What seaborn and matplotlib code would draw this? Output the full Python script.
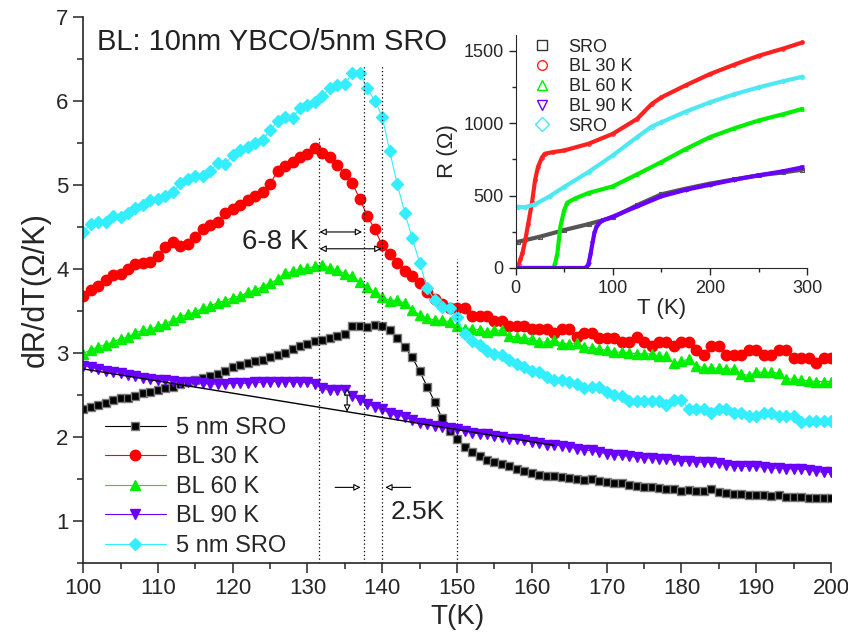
import numpy as np
import pandas as pd
import matplotlib
matplotlib.use("Agg")
import matplotlib.pyplot as plt
from matplotlib.lines import Line2D
from matplotlib.ticker import MultipleLocator
import seaborn as sns

# dR/dT vs T, main panel
T = list(range(100, 201))
sro_black = [2.33, 2.36, 2.38, 2.41, 2.44, 2.46, 2.46, 2.49, 2.52, 2.54,
             2.56, 2.58, 2.60, 2.63, 2.65, 2.68, 2.70, 2.72, 2.75, 2.78,
             2.83, 2.86, 2.88, 2.90, 2.92, 2.95, 2.97, 3.00, 3.05, 3.08,
             3.11, 3.14, 3.15, 3.18, 3.20, 3.23, 3.32, 3.32, 3.31, 3.33,
             3.32, 3.27, 3.18, 3.07, 2.95, 2.78, 2.60, 2.42, 2.22, 2.07,
             1.97, 1.88, 1.82, 1.77, 1.73, 1.70, 1.68, 1.65, 1.62, 1.60,
             1.57, 1.55, 1.54, 1.53, 1.52, 1.51, 1.50, 1.49, 1.50, 1.48,
             1.46, 1.45, 1.45, 1.43, 1.42, 1.41, 1.40, 1.39, 1.38, 1.38,
             1.36, 1.37, 1.36, 1.36, 1.38, 1.34, 1.33, 1.32, 1.32, 1.31,
             1.31, 1.31, 1.30, 1.31, 1.29, 1.29, 1.28, 1.27, 1.27, 1.27,
             1.27]
bl_30k = [3.68, 3.75, 3.80, 3.87, 3.93, 3.94, 4.00, 4.06, 4.07, 4.08,
          4.15, 4.26, 4.32, 4.27, 4.30, 4.38, 4.47, 4.52, 4.56, 4.67,
          4.71, 4.76, 4.82, 4.87, 4.92, 5.01, 5.17, 5.22, 5.27, 5.33,
          5.37, 5.44, 5.38, 5.33, 5.24, 5.13, 5.02, 4.83, 4.63, 4.47,
          4.28, 4.18, 4.07, 3.98, 3.92, 3.83, 3.72, 3.64, 3.58, 3.54,
          3.53, 3.53, 3.44, 3.44, 3.44, 3.38, 3.38, 3.32, 3.32, 3.32,
          3.29, 3.29, 3.29, 3.24, 3.29, 3.29, 3.19, 3.24, 3.24, 3.18,
          3.18, 3.18, 3.13, 3.13, 3.19, 3.13, 3.08, 3.13, 3.13, 3.08,
          3.13, 3.13, 3.04, 2.98, 3.08, 3.08, 2.98, 2.98, 2.98, 3.04,
          3.04, 2.98, 2.98, 3.04, 3.04, 2.94, 2.94, 2.94, 2.88, 2.94,
          2.94]
bl_60k = [2.99, 3.04, 3.07, 3.10, 3.13, 3.17, 3.19, 3.24, 3.27, 3.28,
          3.32, 3.35, 3.39, 3.43, 3.46, 3.49, 3.53, 3.56, 3.60, 3.62,
          3.66, 3.68, 3.72, 3.75, 3.79, 3.83, 3.88, 3.95, 3.97, 4.00,
          4.01, 4.03, 4.05, 4.01, 3.99, 3.94, 3.91, 3.85, 3.78, 3.72,
          3.67, 3.62, 3.63, 3.59, 3.51, 3.45, 3.42, 3.39, 3.39, 3.37,
          3.32, 3.28, 3.29, 3.27, 3.25, 3.27, 3.27, 3.20, 3.19, 3.18,
          3.17, 3.13, 3.13, 3.15, 3.11, 3.11, 3.12, 3.07, 3.06, 3.05,
          3.03, 3.01, 3.01, 3.00, 2.99, 2.99, 2.99, 2.96, 2.96, 2.88,
          2.90, 2.93, 2.85, 2.82, 2.82, 2.82, 2.81, 2.81, 2.75, 2.73,
          2.77, 2.77, 2.77, 2.76, 2.69, 2.69, 2.68, 2.67, 2.66, 2.66,
          2.66]
bl_90k = [2.85, 2.83, 2.81, 2.79, 2.77, 2.76, 2.74, 2.73, 2.70, 2.69,
          2.68, 2.68, 2.67, 2.66, 2.65, 2.65, 2.64, 2.63, 2.63, 2.63,
          2.64, 2.64, 2.64, 2.65, 2.65, 2.66, 2.66, 2.66, 2.66, 2.65,
          2.65, 2.63, 2.58, 2.56, 2.56, 2.56, 2.49, 2.44, 2.39, 2.36,
          2.33, 2.28, 2.26, 2.24, 2.20, 2.17, 2.15, 2.13, 2.12, 2.11,
          2.09, 2.07, 2.05, 2.04, 2.03, 2.01, 2.00, 1.98, 1.97, 1.96,
          1.94, 1.93, 1.91, 1.91, 1.89, 1.88, 1.86, 1.84, 1.84, 1.82,
          1.80, 1.79, 1.78, 1.77, 1.76, 1.75, 1.75, 1.74, 1.74, 1.72,
          1.71, 1.71, 1.70, 1.70, 1.70, 1.69, 1.67, 1.66, 1.65, 1.65,
          1.65, 1.64, 1.63, 1.63, 1.62, 1.62, 1.62, 1.61, 1.59, 1.58,
          1.58]
sro_cyan = [4.44, 4.53, 4.56, 4.56, 4.63, 4.62, 4.67, 4.72, 4.76, 4.82,
            4.83, 4.87, 4.91, 5.02, 5.07, 5.11, 5.11, 5.16, 5.26, 5.25,
            5.36, 5.41, 5.45, 5.50, 5.54, 5.65, 5.76, 5.81, 5.80, 5.91,
            5.95, 5.99, 6.06, 6.15, 6.19, 6.20, 6.33, 6.33, 6.15, 6.00,
            5.81, 5.40, 5.01, 4.67, 4.37, 4.07, 3.77, 3.63, 3.55, 3.53,
            3.43, 3.23, 3.14, 3.09, 3.02, 2.99, 2.98, 2.92, 2.87, 2.83,
            2.78, 2.77, 2.71, 2.68, 2.68, 2.66, 2.63, 2.58, 2.59, 2.60,
            2.54, 2.50, 2.49, 2.43, 2.43, 2.43, 2.43, 2.43, 2.38, 2.44,
            2.44, 2.33, 2.33, 2.33, 2.29, 2.33, 2.33, 2.29, 2.29, 2.25,
            2.25, 2.29, 2.29, 2.25, 2.25, 2.25, 2.18, 2.19, 2.19, 2.19,
            2.19]

# straight reference line under the BL 90 K curve
fit_T = [100, 163]
fit_y = [2.81, 1.90]

# dotted guides
guide_T = [131.5, 137.5, 140.0, 150.0]
guide_top = [5.58, 6.43, 6.43, 4.12]

# inset R(T)
in_T_sro = [2, 25, 50, 75, 100, 125, 150, 175, 200, 225, 250, 275, 295]
in_R_sro = [180, 216, 262, 303, 349, 434, 509, 548, 583, 612, 640, 660, 679]
in_T_30 = [2, 3, 5, 7, 10, 13, 17, 20, 23, 27, 30, 38, 50, 75, 100, 125,
           140, 150, 175, 200, 225, 250, 275, 295]
in_R_30 = [0, 20, 60, 101, 193, 307, 456, 606, 697, 762, 789, 800, 812, 858,
           927, 1030, 1133, 1179, 1262, 1340, 1405, 1466, 1515, 1558]
in_T_60 = [2, 20, 39, 41, 43, 46, 50, 53, 61, 75, 100, 125, 150, 175, 200,
           225, 250, 275, 295]
in_R_60 = [0, 0, 0, 40, 101, 284, 399, 450, 480, 518, 564, 647, 732, 822,
           904, 965, 1019, 1062, 1099]
in_T_90 = [2, 40, 70, 73, 75, 77, 79, 81, 83, 86, 90, 100, 125, 150, 175,
           200, 225, 250, 275, 295]
in_R_90 = [0, 0, 0, 5, 30, 90, 170, 240, 280, 310, 330, 355, 425, 495, 540,
           575, 610, 640, 668, 695]
in_T_cy = [2, 10, 20, 35, 50, 75, 100, 125, 140, 150, 175, 200, 225, 250,
           275, 295]
in_R_cy = [422, 420, 440, 495, 560, 663, 778, 904, 977, 1007, 1080, 1145,
           1200, 1248, 1290, 1321]

sns.set_style("ticks")
plt.rcParams['font.family'] = ['Liberation Sans', 'DejaVu Sans']

fig = plt.figure(figsize=(8.48, 6.35), dpi=100)
ax = fig.add_axes([0.098, 0.1134, 0.882, 0.86])

series = [
    ("5 nm SRO", sro_black, "s", "black", "#7a7a7a", "black", 5.5),
    ("BL 30 K", bl_30k, "o", "#ff0000", "#ff0000", "#ff0000", 7.5),
    ("BL 60 K", bl_60k, "^", "#00ee00", "#00ee00", "#00ee00", 7.5),
    ("BL 90 K", bl_90k, "v", "#6a00ff", "#6a00ff", "#6a00ff", 7.5),
    ("5 nm SRO", sro_cyan, "D", "#33eeff", "#33eeff", "#33eeff", 6.5),
]
for name, vals, mk, lc, mec, mfc, ms in series:
    df = pd.DataFrame({"T": T, "v": vals})
    sns.lineplot(data=df, x="T", y="v", ax=ax, color=lc, marker=mk,
                 markersize=ms, markeredgecolor=mec, markerfacecolor=mfc,
                 markeredgewidth=1.0, linewidth=0.8, label=name)

ax.plot(fit_T, fit_y, color="black", lw=1.0)
ax.vlines(guide_T, 0.5, guide_top, colors="black", linestyles=(0, (1, 2)), lw=0.9)

# annotations
hollow = dict(arrowstyle="<|-|>", fc="white", ec="black", lw=0.8,
              mutation_scale=10, shrinkA=0, shrinkB=0)
ax.annotate("", xy=(137.3, 4.44), xytext=(131.6, 4.44), arrowprops=hollow)
ax.annotate("", xy=(139.9, 4.24), xytext=(131.6, 4.24), arrowprops=hollow)
ax.annotate("", xy=(135.3, 2.30), xytext=(135.3, 2.58), arrowprops=hollow)
single = dict(arrowstyle="-|>", fc="white", ec="black", lw=0.8,
              mutation_scale=10, shrinkA=0, shrinkB=0)
ax.annotate("", xy=(137.1, 1.40), xytext=(133.7, 1.40), arrowprops=single)
ax.annotate("", xy=(140.4, 1.40), xytext=(143.8, 1.40), arrowprops=single)
ax.text(125.7, 4.32, "6-8 K", fontsize=20, ha="center", va="center", color="#222222")
ax.text(144.7, 1.11, "2.5K", fontsize=19, ha="center", va="center", color="#222222")
ax.text(101.9, 6.70, "BL: 10nm YBCO/5nm SRO", fontsize=21, ha="left", va="center",
        color="#222222")

ax.set_xlim(100, 200)
ax.set_ylim(0.5, 7)
ax.xaxis.set_major_locator(MultipleLocator(10))
ax.xaxis.set_minor_locator(MultipleLocator(5))
ax.yaxis.set_major_locator(MultipleLocator(1))
ax.yaxis.set_minor_locator(MultipleLocator(0.5))
ax.tick_params(which="major", length=7, width=1.1, labelsize=16, direction="out")
ax.tick_params(which="minor", length=4, width=1.1, direction="out")
ax.set_xlabel("T(K)", fontsize=20)
ax.set_ylabel("dR/dT(\u03a9/K)", fontsize=22)
sns.despine(ax=ax)
for s in ["left", "bottom"]:
    ax.spines[s].set_linewidth(1.2)

leg = ax.legend(loc="lower left", bbox_to_anchor=(0.01, -0.015), frameon=False,
                fontsize=17, numpoints=1, handlelength=2.6, handletextpad=0.4,
                labelspacing=0.32, borderaxespad=0.2)

# inset
axi = fig.add_axes([0.608, 0.578, 0.344, 0.367])
inset = [
    (in_T_sro, in_R_sro, "s", "#555555"),
    (in_T_30, in_R_30, "o", "#ff2020"),
    (in_T_60, in_R_60, "^", "#00ee00"),
    (in_T_90, in_R_90, "v", "#6a00ff"),
    (in_T_cy, in_R_cy, "D", "#4ee8f2"),
]
for tt, rr, mk, c in inset:
    sns.lineplot(x=tt, y=rr, ax=axi, color=c, marker=mk, markersize=2.5,
                 markerfacecolor="none", markeredgecolor=c, markeredgewidth=0.8,
                 linewidth=3.0, sort=False)
axi.set_xlim(0, 300)
axi.set_ylim(0, 1610)
axi.xaxis.set_major_locator(MultipleLocator(100))
axi.xaxis.set_minor_locator(MultipleLocator(50))
axi.yaxis.set_major_locator(MultipleLocator(500))
axi.yaxis.set_minor_locator(MultipleLocator(250))
axi.tick_params(which="major", length=5, width=1.0, labelsize=13, direction="out")
axi.tick_params(which="minor", length=3, width=1.0, direction="out")
axi.set_xlabel("T (K)", fontsize=16, labelpad=1)
axi.set_ylabel("R (\u03a9)", fontsize=16, labelpad=4)
sns.despine(ax=axi)
axi.patch.set_alpha(0)

names = ["SRO", "BL 30 K", "BL 60 K", "BL 90 K", "SRO"]
handles = [Line2D([], [], ls="none", marker=mk, markersize=7, markerfacecolor="none",
                  markeredgecolor=c, markeredgewidth=1.0)
           for (_, _, mk, c) in inset]
handles[0].set_markeredgecolor("#333333")
axi.legend(handles, names, loc="upper left", bbox_to_anchor=(-0.01, 1.03), frameon=False,
           fontsize=13, handletextpad=0.5, labelspacing=0.15, borderaxespad=0.2)

fig.savefig("out.png", dpi=100)
